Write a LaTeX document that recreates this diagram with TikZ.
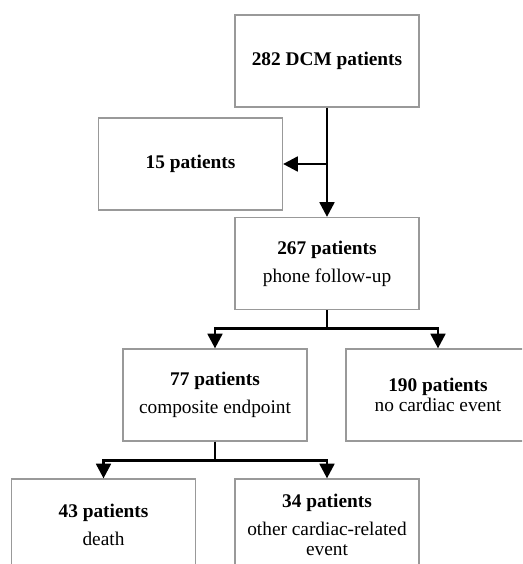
\documentclass[tikz,border=0pt]{standalone}
\usepackage{fontspec}
\setmainfont{Liberation Serif}
\usepackage{tikz}
\usetikzlibrary{arrows.meta,positioning,calc}

\begin{document}
\begin{tikzpicture}[
  x=0.75pt, y=-0.75pt,
  every node/.style={font=\fontsize{14.5}{15}\selectfont},
  box/.style={rectangle, draw=black!40, line width=0.9pt, align=center,
              minimum width=138pt, minimum height=69pt, inner sep=2pt},
  ar/.style={-{Triangle[length=11pt, width=11pt]}, line width=2.1pt}
]
\clip (0,0) rectangle (522,564);

\node[box] (dcm)   at (327,61)    {\textbf{282 DCM patients}};
\node[box] (excl)  at (190.5,164) {\textbf{15 patients}};
\node[box] (phone) at (327,263.5) {\textbf{267 patients}\\[6pt] phone follow-up};
\node[box] (comp)  at (215,395)   {\textbf{77 patients}\\[6pt] composite endpoint};
\node[box] (none)  at (438,395)   {\textbf{190 patients}\\ no cardiac event};
\node[box] (death) at (103.5,525) {\textbf{43 patients}\\[6pt] death};
\node[box] (other) at (327,525)   {\textbf{34 patients}\\[6pt] other cardiac-related\\ event};

\draw[ar] (dcm) -- (phone);
\draw[ar] (dcm.south |- excl.east) -- (excl.east);
\draw[ar] (phone.south) -- ++(0,18) -| (comp.north);
\draw[ar] (phone.south) -- ++(0,18) -| (none.north);
\draw[ar] (comp.south) -- ++(0,19) -| (death.north);
\draw[ar] (comp.south) -- ++(0,19) -| (other.north);
\end{tikzpicture}
\end{document}
